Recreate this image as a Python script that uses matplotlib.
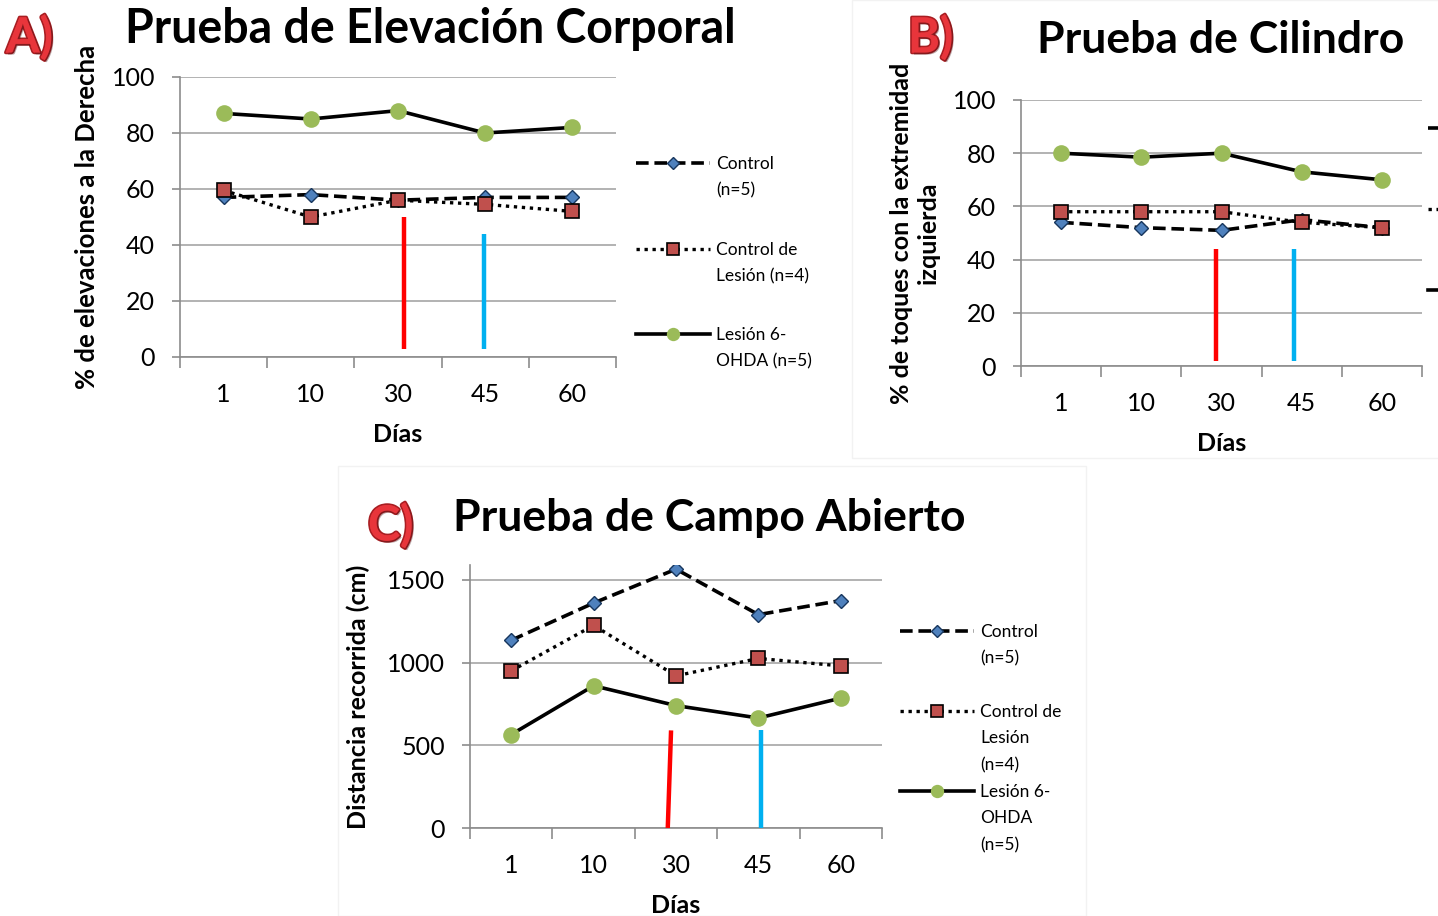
import numpy as np
import matplotlib
matplotlib.use("Agg")
import matplotlib.pyplot as plt
from matplotlib.lines import Line2D
from matplotlib.patches import Rectangle
import matplotlib.patheffects as pe

plt.rcParams['font.family'] = ['Lato', 'DejaVu Sans']

W, H = 1438, 916

dias = ["1", "10", "30", "45", "60"]

# A) Prueba de Elevacion Corporal (% de elevaciones a la derecha)
a_control = [57, 58, 56, 57, 57]
a_lesion_ctrl = [59.5, 50, 56, 54.5, 52]
a_ohda = [87, 85, 88, 80, 82]

# B) Prueba de Cilindro (% de toques con la extremidad izquierda)
b_control = [54, 52, 51, 55, 52]
b_lesion_ctrl = [58, 58, 58, 54, 52]
b_ohda = [80, 78.5, 80, 73, 70]

# C) Prueba de Campo Abierto (distancia recorrida, cm)
c_control = [1135, 1360, 1565, 1290, 1375]
c_lesion_ctrl = [950, 1225, 920, 1025, 980]
c_ohda = [565, 860, 740, 665, 785]

# vertical markers (x in category units, y bottom/top)
a_marks = [(3.07, 3.07, 3, 50), (3.99, 3.99, 3, 44)]
b_marks = [(2.93, 2.93, 2, 44), (3.90, 3.90, 2, 44)]
c_marks = [(2.90, 2.94, 0, 590), (4.03, 4.03, 0, 590)]
mark_colors = ["#ff0000", "#00b0f0"]

labels_2 = ["Control\n(n=5)", "Control de\nLesión (n=4)", "Lesión 6-\nOHDA (n=5)"]
labels_3 = ["Control\n(n=5)", "Control de\nLesión\n(n=4)", "Lesión 6-\nOHDA\n(n=5)"]

styles = [
    dict(color="black", lw=2.6, ls=(0, (3.5, 1.6)), marker="D", mfc="#4f81bd", mec="#17365d", mew=1.0, ms=7.5),
    dict(color="black", lw=2.4, ls=(0, (1, 1.4)), marker="s", mfc="#c0504d", mec="black", mew=1.2, ms=10),
    dict(color="black", lw=2.6, ls="-", marker="o", mfc="#9bbb59", mec="#9bbb59", mew=0, ms=12),
]


def px_axes(x0, x1, y_top, y_bot):
    return [x0 / W, 1 - y_bot / H, (x1 - x0) / W, (y_bot - y_top) / H]


def setup(ax, ymax, yticks):
    ax.set_xlim(0.5, 5.5)
    ax.set_ylim(0, ymax)
    ax.set_yticks(yticks)
    ax.set_xticks(range(1, 6))
    ax.set_xticklabels(dias)
    ax.set_xticks(np.arange(0.5, 6, 1), minor=True)
    ax.tick_params(axis="x", which="major", length=0, pad=19, labelsize=18)
    ax.tick_params(axis="x", which="minor", length=8, width=1.2, color="#8c8c8c", direction="out")
    ax.tick_params(axis="y", length=6, width=1.2, color="#8c8c8c", labelsize=18, pad=12)
    for s in ["top", "right"]:
        ax.spines[s].set_visible(False)
    for s in ["left", "bottom"]:
        ax.spines[s].set_color("#8c8c8c")
        ax.spines[s].set_linewidth(1.2)
    ax.grid(axis="y", color="#a6a6a6", lw=1.2)
    ax.set_axisbelow(True)
    ax.set_xlabel("Días", fontsize=18, fontweight="bold", labelpad=12)


def draw(ax, series, marks):
    x = np.arange(1, 6)
    for vals, st in zip(series, styles):
        ax.plot(x, vals, zorder=3, **st)
    for (xb, xt, yb, yt), col in zip(marks, mark_colors):
        ax.plot([xb, xt], [yb, yt], color=col, lw=3.2, solid_capstyle="butt", zorder=4)


def legend(fig, x, ys, labels, fs=12.5, length=74):
    for y, lab, st in zip(ys, labels, styles):
        yf = 1 - y / H
        fig.add_artist(Line2D([x / W, (x + length) / W], [yf, yf], color="black",
                              lw=st["lw"], ls=st["ls"]))
        fig.add_artist(Line2D([(x + length / 2) / W], [yf], ls="none", marker=st["marker"],
                              mfc=st["mfc"], mec=st["mec"], mew=st["mew"], ms=st["ms"] * 0.8))
        if lab:
            fig.text((x + length + 6) / W, yf + 7 / H, lab, fontsize=fs, va="top", ha="left",
                     linespacing=1.8)


def panel_tag(fig, x, y, letter):
    fig.text(x / W, 1 - y / H, letter, fontsize=35, fontweight="bold", color="#e8353b",
             va="center", ha="left",
             path_effects=[pe.withStroke(linewidth=2.5, foreground="#a81e22"),
                           pe.SimplePatchShadow(offset=(1.5, -1.5), alpha=0.35), pe.Normal()])


fig = plt.figure(figsize=(W / 100, H / 100), dpi=100)

# faint panel frames
fig.add_artist(Rectangle((852 / W, 1 - 458 / H), 590 / W, 458 / H, fill=False, ec="#f2f2f2", lw=1))
fig.add_artist(Rectangle((338 / W, 0), 748 / W, 1 - 466 / H, fill=False, ec="#f2f2f2", lw=1))

# A
axA = fig.add_axes(px_axes(180, 616, 77, 357))
setup(axA, 100, range(0, 101, 20))
draw(axA, [a_control, a_lesion_ctrl, a_ohda], a_marks)
axA.set_ylabel("% de elevaciones a la Derecha", fontsize=18.5, fontweight="bold", labelpad=9)
fig.text(125 / W, 1 - 29 / H, "Prueba de Elevación Corporal", fontsize=33.5, fontweight="bold",
         va="center", ha="left")
panel_tag(fig, 6, 37, "A)")
legend(fig, 636, [163, 249, 334], labels_2)

# B
axB = fig.add_axes(px_axes(1021, 1422, 100, 366))
setup(axB, 100, range(0, 101, 20))
draw(axB, [b_control, b_lesion_ctrl, b_ohda], b_marks)
axB.set_ylabel("% de toques con la extremidad\nizquierda", fontsize=18, fontweight="bold",
               labelpad=9, linespacing=1.2)
fig.text(1037 / W, 1 - 40 / H, "Prueba de Cilindro", fontsize=32, fontweight="bold",
         va="center", ha="left")
panel_tag(fig, 908, 37, "B)")
# legend of panel B runs off the right edge; only the line stubs show
legend(fig, 1428, [128, 209, 290], ["", "", ""])

# C
axC = fig.add_axes(px_axes(470, 882, 565, 828))
setup(axC, 1590, [0, 500, 1000, 1500])
draw(axC, [c_control, c_lesion_ctrl, c_ohda], c_marks)
axC.set_ylabel("Distancia recorrida (cm)", fontsize=18, fontweight="bold", labelpad=12)
fig.text(453 / W, 1 - 518 / H, "Prueba de Campo Abierto", fontsize=32, fontweight="bold",
         va="center", ha="left")
panel_tag(fig, 368, 525, "C)")
legend(fig, 900, [631, 711, 791], labels_3)

fig.savefig("out.png", dpi=100)
